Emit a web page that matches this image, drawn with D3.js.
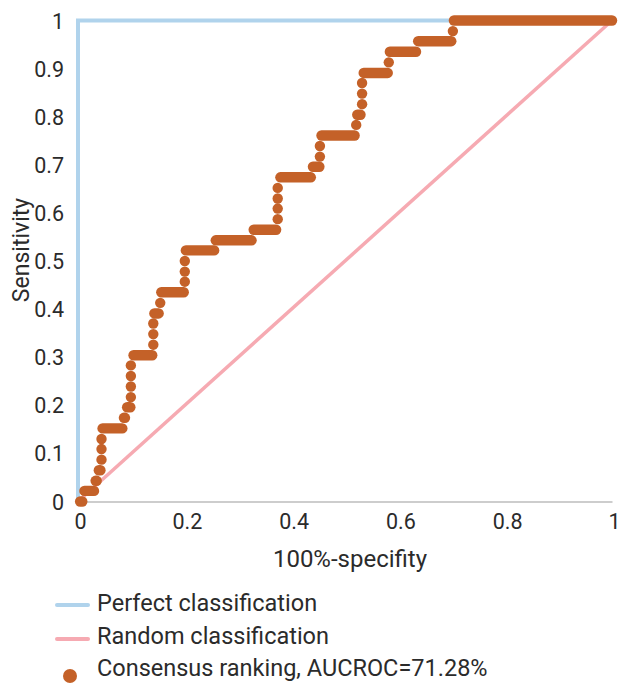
<!DOCTYPE html>
<html>
<head>
<meta charset="utf-8">
<script src="https://cdn.jsdelivr.net/npm/d3@7"></script>
<style>
  body { margin: 0; background: #fff; }
  text { font-family: Roboto, "Noto Sans", sans-serif; fill: #2b2b2b; }
</style>
</head>
<body>
<div id="chart"></div>
<script>
// ROC steps: one entry per sensitivity level, with the range of 100%-specificity it spans
var tpr = [0, 0.022, 0.043, 0.065, 0.087, 0.109, 0.130, 0.152, 0.174, 0.196,
  0.217, 0.239, 0.261, 0.283, 0.304, 0.326, 0.348, 0.370, 0.391, 0.413,
  0.435, 0.457, 0.478, 0.500, 0.522, 0.543, 0.565, 0.587, 0.609, 0.630,
  0.652, 0.674, 0.696, 0.717, 0.739, 0.761, 0.783, 0.804, 0.826, 0.848,
  0.870, 0.891, 0.913, 0.935, 0.957, 0.978, 1.0];
var fprFrom = [0.004, 0.012, 0.033, 0.039, 0.044, 0.044, 0.044, 0.046, 0.086, 0.092,
  0.099, 0.099, 0.099, 0.099, 0.104, 0.141, 0.141, 0.141, 0.143, 0.154,
  0.156, 0.200, 0.200, 0.200, 0.202, 0.258, 0.329, 0.374, 0.374, 0.374,
  0.374, 0.379, 0.440, 0.453, 0.453, 0.456, 0.521, 0.523, 0.532, 0.532,
  0.532, 0.535, 0.582, 0.584, 0.637, 0.702, 0.704];
var fprTo = [0.008, 0.030, 0.035, 0.042, 0.044, 0.044, 0.044, 0.083, 0.088, 0.098,
  0.099, 0.099, 0.099, 0.099, 0.139, 0.141, 0.141, 0.141, 0.151, 0.154,
  0.198, 0.200, 0.200, 0.200, 0.255, 0.325, 0.371, 0.374, 0.374, 0.374,
  0.374, 0.436, 0.452, 0.453, 0.453, 0.518, 0.521, 0.529, 0.532, 0.532,
  0.532, 0.580, 0.582, 0.633, 0.699, 0.702, 1.0];

var perfectX = [0, 0, 1];
var perfectY = [0, 1, 1];
var randomX = [0, 1];
var randomY = [0, 1];

var tickValues = [0, 0.1, 0.2, 0.3, 0.4, 0.5, 0.6, 0.7, 0.8, 0.9, 1];
var yTickLabels = ["0", "0.1", "0.2", "0.3", "0.4", "0.5", "0.6", "0.7", "0.8", "0.9", "1"];
var xTicks = [0, 0.2, 0.4, 0.6, 0.8, 1];
var xTickLabels = ["0", "0.2", "0.4", "0.6", "0.8", "1"];

var legendLabels = ["Perfect classification", "Random classification", "Consensus ranking, AUCROC=71.28%"];

var width = 619, height = 684;
var blue = "#b0d3ec", pink = "#f6aab2", orange = "#c46128";
var dotR = 5.2;

var svg = d3.select("#chart").append("svg")
  .attr("width", width)
  .attr("height", height);

var x = d3.scaleLinear().domain([0, 1]).range([78, 612]);
var y = d3.scaleLinear().domain([0, 1]).range([501.5, 20.5]);

// x axis (grey baseline, no ticks)
var xAxis = svg.append("g")
  .attr("transform", "translate(0," + y(0) + ")")
  .call(d3.axisBottom(x).tickValues(xTicks).tickSize(0).tickPadding(12)
    .tickFormat((d, i) => xTickLabels[i]));
xAxis.select(".domain").attr("stroke", "#bdbdbd").attr("stroke-width", 1.5);
xAxis.selectAll("text").style("font-size", "21.5px").attr("dx", 2);

var yAxis = svg.append("g")
  .attr("transform", "translate(" + x(0) + ",0)")
  .call(d3.axisLeft(y).tickValues(tickValues).tickSize(0).tickPadding(14)
    .tickFormat((d, i) => yTickLabels[i]));
yAxis.select(".domain").remove();
yAxis.selectAll("text").style("font-size", "21.5px").attr("dy", "0.35em");

// axis titles
svg.append("text")
  .attr("x", 350)
  .attr("y", 567)
  .attr("text-anchor", "middle")
  .style("font-size", "24px")
  .text("100%-specifity");

svg.append("text")
  .attr("transform", "translate(29,250) rotate(-90)")
  .attr("text-anchor", "middle")
  .style("font-size", "23px")
  .text("Sensitivity");

var line = d3.line().x(d => x(d[0])).y(d => y(d[1]));

svg.append("path")
  .datum(perfectX.map((v, i) => [v, perfectY[i]]))
  .attr("d", line)
  .attr("fill", "none")
  .attr("stroke", blue)
  .attr("stroke-width", 4);

svg.append("path")
  .datum(randomX.map((v, i) => [v, randomY[i]]))
  .attr("d", line)
  .attr("fill", "none")
  .attr("stroke", pink)
  .attr("stroke-width", 3.5);

// consensus ranking dots: runs of tightly packed points drawn as round-capped strokes
var runs = tpr.map((t, i) => ({ t: t, a: fprFrom[i], b: fprTo[i] }));

svg.append("g")
  .selectAll("line")
  .data(runs.filter(d => d.b > d.a))
  .enter()
  .append("line")
  .attr("x1", d => x(d.a))
  .attr("x2", d => x(d.b))
  .attr("y1", d => y(d.t))
  .attr("y2", d => y(d.t))
  .attr("stroke", orange)
  .attr("stroke-width", dotR * 2)
  .attr("stroke-linecap", "round");

svg.append("g")
  .selectAll("circle")
  .data(runs.filter(d => d.b <= d.a))
  .enter()
  .append("circle")
  .attr("cx", d => x(d.a))
  .attr("cy", d => y(d.t))
  .attr("r", dotR)
  .attr("fill", orange);

// legend
var legend = svg.append("g");
var rowY = [605, 639, 676];
var textY = [603, 636, 668];

legend.append("line")
  .attr("x1", 57).attr("x2", 88).attr("y1", rowY[0]).attr("y2", rowY[0])
  .attr("stroke", blue).attr("stroke-width", 4).attr("stroke-linecap", "round");
legend.append("line")
  .attr("x1", 57).attr("x2", 88).attr("y1", rowY[1]).attr("y2", rowY[1])
  .attr("stroke", pink).attr("stroke-width", 4).attr("stroke-linecap", "round");
legend.append("circle")
  .attr("cx", 70).attr("cy", rowY[2]).attr("r", 7)
  .attr("fill", orange);

legend.selectAll("text")
  .data(legendLabels)
  .enter()
  .append("text")
  .attr("x", 97)
  .attr("y", (d, i) => textY[i])
  .attr("dy", "0.35em")
  .style("font-size", "23.5px")
  .text(d => d);
</script>
</body>
</html>
